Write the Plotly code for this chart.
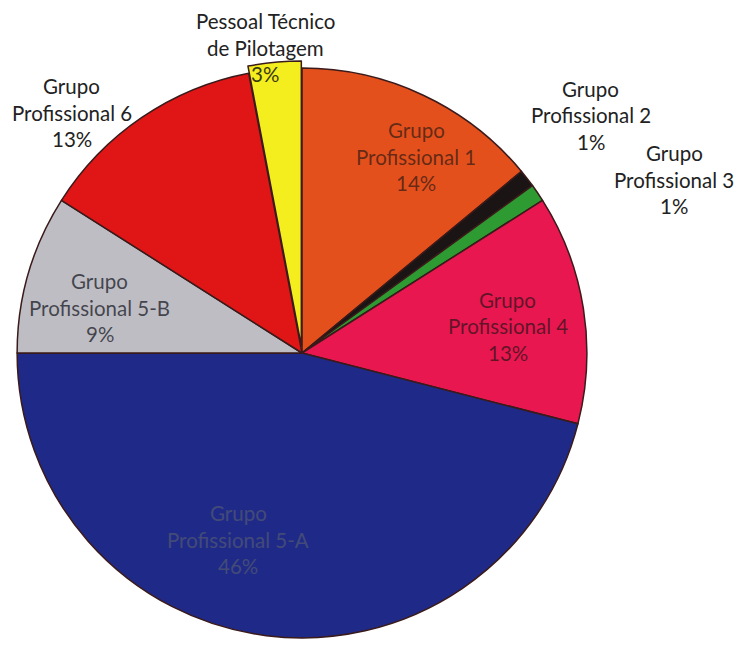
import math
import plotly.graph_objects as go

# Distribution of staff by professional group (%)
categories = [
    "Grupo Profissional 1",
    "Grupo Profissional 2",
    "Grupo Profissional 3",
    "Grupo Profissional 4",
    "Grupo Profissional 5-A",
    "Grupo Profissional 5-B",
    "Grupo Profissional 6",
    "Pessoal Técnico de Pilotagem",
]
values = [14, 1, 1, 13, 46, 9, 13, 3]
colors = ["#E4501C", "#1A1414", "#2E9A32", "#E8174F", "#1F2A88", "#BDBDC3", "#E01616", "#F4EE1E"]
label_lines = [
    ["Grupo", "Profissional 1"],
    ["Grupo", "Profissional 2"],
    ["Grupo", "Profissional 3"],
    ["Grupo", "Profissional 4"],
    ["Grupo", "Profissional 5-A"],
    ["Grupo", "Profissional 5-B"],
    ["Grupo", "Profissional 6"],
    ["Pessoal Técnico", "de Pilotagem"],
]

W, H = 739, 645
pull = [0, 0, 0, 0, 0, 0, 0, 0.025]

dom_x = [9 / W, 595 / W]
dom_y = [0, 584 / H]

fig = go.Figure(
    go.Pie(
        labels=categories,
        values=values,
        marker=dict(colors=colors, line=dict(color="#3A1A1A", width=1.5)),
        sort=False,
        direction="clockwise",
        rotation=0,
        pull=pull,
        textinfo="none",
        hoverinfo="label+percent",
        domain=dict(x=dom_x, y=dom_y),
        showlegend=False,
    )
)

# Pie geometry in pixels, used to place the labels around the slices
cx = (dom_x[0] + dom_x[1]) / 2 * W
cy = H - (dom_y[0] + dom_y[1]) / 2 * H
radius = min((dom_x[1] - dom_x[0]) * W, (dom_y[1] - dom_y[0]) * H) / 2 / (1 + max(pull))

# label placement: radial factor, angular nudge (degrees) and vertical nudge (px)
label_r = [0.81, 1.32, 1.44, 0.73, 0.68, 0.73, 1.165, 1.0]
label_da = [4.5, -2.0, 9.4, 0.5, 12.0, -2.5, -9.7, -2.0]
label_dy = [0, -1, -5, 0, 0, 0, -5, 0]
label_color = [
    "rgba(45,25,20,0.70)",   # on orange
    "#222222",
    "#222222",
    "rgba(45,20,25,0.72)",   # on pink
    "#434A78",               # on navy
    "rgba(35,35,45,0.78)",   # on silver
    "#222222",
    "#222222",
]
LINE = 26.5
DY = 4


def put_text(text, x_px, y_px, color):
    fig.add_annotation(x=x_px / W, y=1 - (y_px + DY) / H, xref="paper", yref="paper",
                       xanchor="center", yanchor="middle",
                       text=text, showarrow=False,
                       font=dict(family="Lato", size=20.5, color=color))


total = sum(values)
cum = 0
for i, v in enumerate(values):
    mid = (cum + v / 2) / total * 360 + label_da[i]
    cum += v
    r = radius * label_r[i]
    px = cx + r * math.sin(math.radians(mid))
    py = cy - r * math.cos(math.radians(mid)) + label_dy[i]
    pct = f"{round(v / total * 100)}%"
    if i == len(values) - 1:
        # percentage sits on the thin slice, name goes above it
        put_text(pct, px, py, "#3A3A10")
        for k, line in enumerate(label_lines[i]):
            put_text(line, px, py - LINE * (len(label_lines[i]) - k), label_color[i])
        continue
    lines = label_lines[i] + [pct]
    for k, line in enumerate(lines):
        put_text(line, px, py + LINE * (k - (len(lines) - 1) / 2), label_color[i])

fig.update_layout(
    width=W,
    height=H,
    margin=dict(l=0, r=0, t=0, b=0),
    paper_bgcolor="white",
    plot_bgcolor="white",
    font=dict(family="Lato"),
)

fig.write_html("out.html")
